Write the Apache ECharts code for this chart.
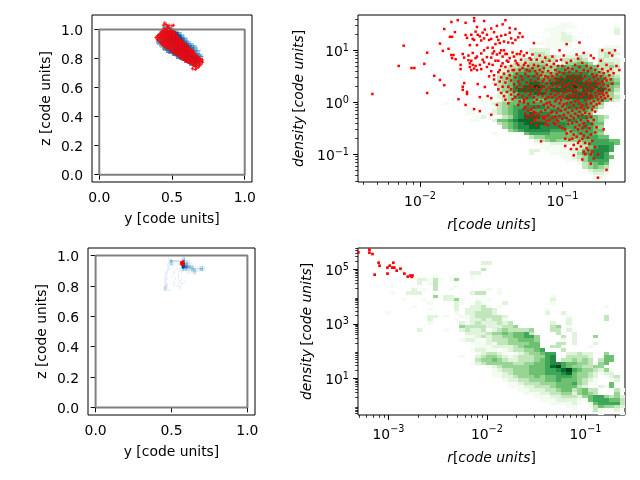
<!DOCTYPE html>
<html><head><meta charset="utf-8">
<script src="https://cdn.jsdelivr.net/npm/echarts@6/dist/echarts.min.js"></script>
<style>html,body{margin:0;padding:0;background:#fff}#c{width:640px;height:480px}</style></head>
<body><div id="c"></div>
<script>
// Greens / Blues levels 1..9
const greens=['#f4fbf1','#e0f3db','#c2e6bb','#98d594','#6cc070','#3fa75a','#238b45','#006d2c','#00441b'];
const blues=['#e9f2fa','#cfe1f2','#a8cee4','#78b5d9','#4d99ca','#2c7bb6','#115ca5','#08459a','#08306b'];
const bluesDense=['#a8cee4','#78b5d9','#4d99ca','#2c7bb6','#1f6cae','#115ca5','#08519c','#08459a','#08306b'];
const tickLabelsLinear=[0,0.2,0.4,0.6,0.8,1.0];
const xTicksLinear=[0,0.5,1.0];
const boxEdge=[[0,0],[1,0],[1,1],[0,1],[0,0]];

// top-right histogram: [row from top, first column, levels]
const heatTop=[[2,38,"11"],[3,37,"1111"],[3,48,"1"],[4,35,"1111"],[4,48,"2"],[5,36,"1121"],[5,48,"2"],[6,36,"11221"],[7,35,"111221"],[8,33,"1111111"],[8,41,"1"],[9,35,"11111"],[9,46,"111"],[10,32,"2222"],[10,40,"1"],[10,45,"222"],[11,31,"12332"],[11,38,"11"],[11,41,"12"],[11,45,"2332"],[12,28,"2221"],[12,33,"33332"],[12,39,"2232"],[12,45,"232"],[13,30,"2333343"],[13,38,"33343"],[13,45,"32221"],[14,29,"33344433"],[14,38,"244554"],[14,45,"3332"],
[15,27,"1334445544565666553343"],[16,26,"12345665544666666654332"],[17,26,"23456666555677777665432"],[18,26,"34567777566778887776543"],[19,25,"134567777667888887777554"],[20,25,"234567788778888888887665"],[21,26,"34577889877788988887654"],[22,26,"34578888778888878878653"],[23,26,"23457778877777888777542"],[24,25,"1234677766777788888765431"],[25,23,"11"],[25,27,"3455665566666777666532"],[26,16,"1"],[26,24,"1234556666666667777654"],[27,20,"1"],[27,25,"134566777766667777653"],[28,21,"1"],[28,25,"23456776666776666653"],[29,20,"11"],[29,24,"12345677877766666654"],[30,22,"12"],[30,27,"34678887777766776543"],[31,21,"11"],[31,25,"255678887777667766554"],[32,26,"34567888877776667755"],[33,27,"4567788777776667654"],[34,28,"456777776665666655"],[35,25,"1"],[35,31,"566665555566654"],[36,32,"344555555566655"],[37,33,"2345444445566655"],[38,33,"1112222234666665"],[39,34,"11111122356776"],[40,32,"22"],[40,35,"1111123567776"],[41,32,"2"],[41,36,"11112466776"],[42,38,"1123467765"],[43,39,"11246666"],[44,41,"134565"],[45,42,"34543"],[46,43,"2332"],[47,43,"1221"],[48,44,"11"]];

// bottom-right histogram
const heatBottom=[[4,23,"22"],[6,23,"3"],[7,21,"22"],[8,14,"1"],[8,17,"1"],[8,21,"1"],[9,11,"22"],[9,13,"1"],[9,14,"3"],[9,15,"1"],[9,17,"1"],[9,18,"4"],[9,21,"1"],[10,11,"2"],[10,13,"13"],[11,6,"1"],[11,14,"3"],[11,18,"1"],[12,10,"2"],[12,12,"1"],[12,14,"3"],[12,17,"1"],[12,24,"1"],[12,26,"1"],[13,6,"1"],[13,9,"222"],[13,21,"233"],[13,26,"1"],[14,14,"4"],[14,16,"22"],[14,23,"1"],[14,36,"1"],[15,8,"1"],[15,12,"1"],[15,16,"22"],[15,18,"41"],[15,22,"1"],[15,24,"1"],[15,36,"2"],[16,13,"1"],[16,18,"21"],[16,22,"21"],[16,27,"2"],[16,36,"1"],[17,10,"1"],[17,18,"2"],[17,21,"2231"],[17,26,"1"],[17,46,"1"],[18,13,"1"],[18,18,"2"],[18,20,"22233"],[18,25,"2"],[18,35,"1"],[19,5,"1"],[19,18,"1"],[19,20,"22333"],[19,25,"2"],[19,35,"2"],[19,38,"2"],[20,13,"22"],[20,16,"1"],[20,19,"112333"],[20,25,"332"],[20,39,"1"],[20,46,"3"],[21,13,"2"],[21,18,"1"],[21,20,"12232"],[21,25,"331"],[21,39,"2"],[21,46,"3"],[22,13,"1"],[22,19,"212322"],[22,25,"2323"],[22,36,"2"],[22,39,"2"],[23,19,"433332"],[23,25,"22334"],[23,36,"34"],[23,39,"1"],[24,11,"2"],[24,16,"1"],[24,19,"23223"],[24,25,"23433334"],[24,36,"33"],[24,39,"2"],
[25,19,"0222234454556300003002"],[26,19,"01123233445566400003020004"],[27,19,"1221023334455540000102"],[28,19,"0011121334444550003302000200000"],[29,19,"0001112222345550033000001"],[30,19,"0012211012334456000300000"],[31,19,"0001233210123445660022322004"],[32,19,"1002344321233344670133332005500"],[33,19,"0003445432233345671334343035500"],[34,19,"0012344444334455677655443045"],[35,19,"0000012344444555689654433440"],[36,19,"000000123344455566789654432410"],[37,19,"000000112344455566678544321220"],[38,19,"0000001122344454556665443201230"],[39,19,"0000000012233444556555432100020"],[40,19,"0000000001123334445556431100500"],[41,19,"0000000001112233345555320021500"],[42,19,"0000000000011222334553453300031"],[43,19,"0000000000001112233442454300040"],[44,19,"0000000000000011122333245664342"],[45,19,"0000000000000001112222115666553"],[46,19,"0000000000000000011112101566663"],[47,19,"0000000000000000000011001354432"],[48,19,"0000000000000000000001000311020"],[49,19,"0000000000000000000000000010001"]];

// blue histogram top-left: [z, first y column (hundredths), levels]
const blueTop=[[1.02,44,"2211"],[1.01,43,"2334432"],[1.00,43,"233455421"],[.99,42,"123455654321"],[.98,41,"12334556676521"],[.97,41,"2344455677786521"],[.96,40,"233445567777786421"],[.95,39,"13344455677888876521"],[.94,39,"233445566778888876421"],[.93,39,"2344455667788888875421"],[.92,39,"23444556667788888765321"],[.91,39,"223445566677888877654321"],[.90,39,"12344555666777788777654321"],[.89,40,"2334455566677778877654321"],[.88,41,"12344455566677788877654321"],[.87,42,"12344555666777888776544321"],[.86,43,"2344556667778887766544321"],[.85,44,"23445566677788877665443321"],[.84,46,"34555666776887766544321"],[.83,47,"2345566676677876654433"],[.82,50,"345566676677766544331"],[.81,52,"24566776666776654431"],[.80,53,"345667776667765431"],[.79,55,"3456677666776531"],[.78,56,"24566776667531"],[.77,58,"2345554665421"],[.76,60,"23443554321"],[.75,62,"2334321"],[.74,64,"1221"]];

// blue histogram bottom-left: strings start at y column 45
const blueBottomZ=[.98,.97,.96,.95,.94,.93,.92,.91,.90,.89,.88,.87,.86,.85,.84,.83,.82,.81,.80,.79,.78,.77];
const blueBottomLevels=["000100000000230000000000000","000120000000340000000000000","000143222211452210000000000","000233100121563320000000000","001132100122784421100000000","001112000013885532210000000","001101000004876544321011231","001101000012654433443223442","001100000011323222343112341","011000100111100110233210000","011000100101000110122100000","011001000100000001011000000","110001000100000000000000000","111000010101000000000000000","111000010101000000000000000","110000000110000000000000000","110000100010010000000000000","111001000101100000000000000","121000100101000000000000000","221000001110000000000000000","321000000010000000000000000","220100000000000000000000000"];

// red points top-left: [y, z, z, ...]
const redTL=[[.39,.945],[.40,.93,.955],[.41,.92,.945,.965],[.42,.91,.935,.955,.975],[.43,.90,.92,.945,.965,.985],[.44,.89,.91,.93,.955,.975,.995,1.03],[.45,.88,.905,.925,.945,.965,.985,1.005,1.045],[.46,.875,.895,.92,.94,.96,.98,1.0,1.035],[.47,.87,.89,.91,.93,.95,.97,.99,1.02],[.48,.865,.885,.905,.925,.945,.965,.985,1.01,1.03],[.49,.86,.88,.90,.92,.94,.96,.98,.995],[.50,.85,.875,.895,.915,.935,.955,.975,.99,1.025],[.51,.84,.865,.885,.905,.925,.945,.965,.985,1.03],[.52,.835,.855,.88,.90,.92,.94,.96,.98],[.53,.83,.85,.87,.89,.91,.93,.95,.965],[.54,.825,.845,.865,.885,.905,.925,.945],[.55,.815,.835,.855,.875,.895,.915,.935],[.56,.805,.825,.85,.87,.89,.905,.925],[.57,.80,.82,.84,.86,.88,.90,.92],[.58,.795,.815,.835,.855,.875,.895,.91],[.59,.785,.805,.83,.85,.87,.89],[.60,.78,.80,.82,.84,.86,.88,.90],[.61,.775,.795,.815,.835,.855,.875],[.62,.77,.79,.81,.83,.85,.87],[.63,.765,.785,.805,.825,.845,.86],[.64,.73,.76,.78,.80,.82,.84,.855],[.65,.75,.77,.79,.81,.83,.845],[.66,.725,.745,.765,.785,.805,.825],[.67,.735,.76,.78,.80,.82],[.68,.74,.755,.775,.795,.81],[.69,.75,.77,.79,.80],[.70,.76,.78,.795],[.71,.775,.79]];
const redBL=[[.565,.945],[.57,.955],[.575,.95],[.57,.94],[.58,.945],[.565,.955],[.575,.96]];

// red points top-right in log10 units: [log r, log density, ...]
const redTR=[[-2.335,.16],[-2.115,1.09],[-2.15,.70],[-2.06,.66],[-2.04,.66],[-1.97,.74],[-1.95,.955,.18],[-1.90,.51],[-1.86,.43,1.13],[-1.84,.99],[-1.83,.33,1.41],[-1.80,1.03],[-1.79,1.26],[-1.78,1.545,.91],[-1.775,1.26,.85],[-1.765,.91],[-1.755,1.35],[-1.75,.83],[-1.735,1.58],[-1.73,.06],[-1.715,.64,.72],[-1.70,.93,.24,.30],[-1.69,.37,.86],[-1.68,1.53,1.295,-.05],[-1.67,1.24,.16,.2],[-1.66,.81,.9],[-1.65,1.1,.75,.68],[-1.64,1.3,.62,.8],[-1.63,.95,1.22,.72],[-1.62,1.62,1.565,1.2,.65,-.13],[-1.61,1.36,.85,.7],[-1.60,1.45,1.1,.88,.62],[-1.595,.35,1.3],[-1.58,1.27,.72,.10,-.17],[-1.57,1.19,.94,.64],[-1.56,1.34,.82],[-1.55,1.565,1.23,1.0,.77],[-1.545,.295,1.4],[-1.53,1.3,.87,.68],[-1.525,.12,1.05],[-1.515,1.2,.74,.5],[-1.50,1.42,1.22,.86,.6,.08,-.24],[-1.49,1.05,.94,.72],[-1.48,1.35,.98,.52,.44],[-1.47,1.12,.8,.34],[-1.46,1.26,1.47,.92,-.05],[-1.45,1.2,.8,.58,.25],[-1.44,1.14,.95,.62,.4],[-1.43,1.28,1.0,.7,.48,.18],[-1.42,1.5,.88,.75,.3],[-1.41,1.17,1.0,.55,.12],[-1.40,1.58,1.3,.93,.68,.38,.05],[-1.39,.93,.8,.46,.2],[-1.38,1.15,.78,.6,.3,-.02],[-1.37,1.43,1.34,.85,.52],[-1.36,1.23,.7,.42,.15,.25],[-1.35,1.14,.96,.62,.06],[-1.34,.88,.62,.35,.2],[-1.33,1.41,1.2,.8,.48,.1],[-1.32,.93,.75,.55,.28],[-1.31,1.25,.72,.4,.15,-.05],[-1.30,1.33,.93,.62,.34,.02],[-1.29,.98,.82,.5,.24],[-1.28,1.26,.66,.44,.12],[-1.27,.9,.72,.3,.0,.05,-.12],[-1.26,.76,.55,.2,-.1,-.22],[-1.25,.95,.62,.38,.08,-.3],[-1.24,.7,.5,.26,-.03,-.16],[-1.23,.85,.6,.32,.14,-.26],[-1.22,.82,.42,.18,-.14,-.4],[-1.21,.92,.66,.3,-.25],[-1.20,1.14,.72,.5,.1,.0,-.1,-.18,-.34],[-1.19,.6,.4,.22,-.2,-.35],[-1.18,.82,.55,.28,.05,-.3,-.44],[-1.17,.7,.46,.14,-.08,-.24],[-1.16,.9,.62,.34,.2,-.38],[-1.15,.52,.25,.02,-.18,-.75],[-1.14,.78,.58,.4,.12,-.28],[-1.13,.66,.44,.3,-.05,-.32],[-1.12,.86,.5,.18,.06,-.15,-.28,-.42],[-1.11,.72,.36,.24,-.02,-.36],[-1.10,.6,.48,.1,-.1,-.25,-.44],[-1.09,.8,.42,.28,.0,-.34],[-1.08,.68,.56,.16,-.05,-.2],[-1.07,.88,.5,.32,.1,-.18,-.3],[-1.06,.74,.38,.22,-.08,-.4],[-1.05,.62,.46,.14,.02,-.28,-.42],[-1.04,.8,.54,.3,.06,-.2,-.34],[-1.03,.7,.42,.18,-.12,-.36],[-1.02,1.0,.58,.34,.1,-.02,-.26,-.46],[-1.01,.82,.48,.24,.04,-.16],[-1.00,.7,.38,.12,-.08,-.32,-.5],[-.99,.9,.56,.3,.18,-.04,-.24],[-.98,.62,.44,.08,-.14,-.52,-.7,-.84],[-.97,1.12,.76,.34,.2,-.02,-.3,-.6],[-.96,.66,.5,.26,.06,-.2,-.42],[-.95,.58,.36,.14,-.1,-.34,-.72],[-.94,.8,.46,.22,.0,-.26,-.56,-.9],[-.93,.64,.3,.1,-.16,-.4,-.7],[-.92,.52,.38,.16,-.06,-.3,-.62,-.82,-1.02],[-.91,.72,.44,.24,.02,-.22,-.48],[-.90,.92,.6,.34,.12,-.12,-.38,-.66,-.9],[-.89,.84,.5,.2,.04,-.26,-.52,-.78],[-.88,1.15,.68,.42,.28,-.02,-.18,-.44,-.74],[-.87,.56,.3,.1,-.1,-.34,-.6,-.85],[-.86,.76,.46,.18,-.06,-.24,-.5,-.7,-1.1],[-.85,.95,.62,.36,.14,-.14,-.4,-.64,-.95],[-.84,.5,.26,.04,-.2,-.46,-.78,-1.0],[-.83,.7,.4,.2,-.04,-.3,-.56,-.88],[-.82,.6,.32,.12,-.1,-.36,-.68,-.92],[-.81,.44,.24,.06,-.22,-.5,-.8],[-.80,.9,.66,.38,.16,-.02,-.28,-.62,-1.0,-1.18],[-.79,.54,.3,.1,-.14,-.42,-.74,-.95],[-.78,.85,.48,.26,.02,-.08,-.34,-1.08],[-.77,.62,.4,.18,-.18,-.58,-.86],[-.76,.52,.34,.12,-.04,-.48],[-.75,.7,.44,.22,.06,-1.0,-1.45],[-.74,.58,.36,.16,-.02],[-.73,.8,.5,.28,.1],[-.72,1.0,.64,.4,.2,.04],[-.71,.56,.34,.14,-.52],[-.70,.46,.26,.08],[-.69,.72,.42,.18,-1.3],[-.68,.6,.32,.12],[-.67,.95,.52,.24],[-.66,.64,.44,.06],[-.65,.9,.36],[-.64,.56],[-.63,1.0],[-.62,.7],[-.60,.62]];

// red points bottom-right in log10 units
const redBR=[[-3.305,5.62],[-3.193,5.72],[-3.193,5.61],[-3.162,5.56],[-3.10,5.24],[-3.09,5.13],[-3.14,4.80],[-3.01,5.06],[-3.01,4.84],[-2.987,5.13],[-2.95,5.24],[-2.96,5.06],[-2.94,5.06],[-2.916,4.95],[-2.878,5.02],[-2.838,4.84],[-2.804,4.73],[-2.777,4.77],[-2.756,4.77],[-2.763,4.72]];

// axis ranges (log10 for right column)
const rangeTR={x:[-2.436,-0.56],y:[-1.533,1.68]};
const rangeBR={x:[-3.309,-0.598],y:[-0.347,5.78]};
const decadesTRx=[-2,-1],decadesTRy=[-1,0,1],decadesBRx=[-3,-2,-1],decadesBRy=[1,3,5];
const FONT='DejaVu Sans',FS=13.9;

const pow=v=>Math.pow(10,v);
function minors(lo,hi){const o=[];for(let d=Math.floor(lo);d<Math.ceil(hi);d++)for(let k=2;k<10;k++){const v=k*pow(d);if(Math.log10(v)>lo&&Math.log10(v)<hi)o.push(v);}return o;}
const grids=[{left:92,top:15,width:160,height:167},{left:358,top:15,width:267,height:167},{left:88,top:248,width:167,height:167},{left:358,top:248,width:267,height:167}];
const axisBase={axisLine:{show:false},splitLine:{show:false},axisTick:{length:4.9,lineStyle:{color:'#000',width:1}}};
function linAxis(dim,g,min,max,ticks,name,gap){return Object.assign({},axisBase,{type:'value',gridIndex:g,min,max,name,nameLocation:'middle',nameGap:gap,nameTextStyle:{fontFamily:FONT,fontSize:FS,color:'#000'},
 axisTick:Object.assign({},axisBase.axisTick,{customValues:ticks}),axisLabel:{customValues:ticks,margin:9,fontFamily:FONT,fontSize:FS,color:'#000',hideOverlap:false,showMinLabel:true,showMaxLabel:true,
 formatter:v=>'{t|'+Number(v).toFixed(1)+'}',rich:{t:{fontFamily:FONT,fontSize:FS,color:'#000',padding:dim==='y'?[4,0,0,0]:0}}}});}
const mathRich={i:{fontFamily:FONT,fontStyle:'italic',fontSize:FS,color:'#000'},n:{fontFamily:FONT,fontSize:FS,color:'#000'}};
function logAxis(g,r,decs,name,gap,pos){const vals=decs.map(pow);const left=pos==='left';return Object.assign({},axisBase,{type:'log',logBase:10,gridIndex:g,position:pos,min:pow(r[0]),max:pow(r[1]),name,nameLocation:'middle',nameGap:gap,nameTextStyle:{rich:mathRich},
 axisTick:Object.assign({},axisBase.axisTick,{customValues:vals}),axisLabel:{customValues:vals,margin:9,hideOverlap:false,showMinLabel:true,showMaxLabel:true,fontFamily:FONT,fontSize:FS,color:'#000',
 formatter:v=>'{b|10}{s|'+String(Math.round(Math.log10(v))).replace('-','\u2212')+'}',rich:{b:{fontFamily:FONT,fontSize:FS,color:'#000',lineHeight:18,verticalAlign:'bottom',padding:left?[4,0,0,0]:0},s:{fontFamily:FONT,fontSize:9.7,color:'#000',verticalAlign:'top',lineHeight:11,padding:left?[2,0,0,0]:0}}}});}
function minorAxis(g,r,pos){return {type:'log',logBase:10,gridIndex:g,position:pos,min:pow(r[0]),max:pow(r[1]),axisLine:{show:false},splitLine:{show:false},axisLabel:{show:false},axisTick:{show:true,length:2.8,lineStyle:{color:'#000',width:0.8},customValues:minors(r[0],r[1])}};}
const rName='{i|r}{n|[}{i|code units}{n|]}',dName='{i|density} {n|[}{i|code units}{n|]}';
const xAxes=[linAxis('x',0,-0.05,1.05,xTicksLinear,'y [code units]',30),logAxis(1,rangeTR.x,decadesTRx,rName,36,'bottom'),linAxis('x',2,-0.05,1.05,xTicksLinear,'y [code units]',30),logAxis(3,rangeBR.x,decadesBRx,rName,36,'bottom'),minorAxis(1,rangeTR.x,'bottom'),minorAxis(3,rangeBR.x,'bottom')];
const yAxes=[linAxis('y',0,-0.05,1.10,tickLabelsLinear,'z [code units]',39),logAxis(1,rangeTR.y,decadesTRy,dName,52,'left'),linAxis('y',2,-0.05,1.05,tickLabelsLinear,'z [code units]',39),logAxis(3,rangeBR.y,decadesBRy,dName,44,'left'),minorAxis(1,rangeTR.y,'left'),minorAxis(3,rangeBR.y,'left')];

function logCells(segs,r){const d=[];const dx=(r.x[1]-r.x[0])/50,dy=(r.y[1]-r.y[0])/50;
 segs.forEach(([row,col,s])=>{for(let i=0;i<s.length;i++){const l=+s[i];if(!l)continue;const c=col+i;d.push([pow(r.x[0]+dx*c),pow(r.x[0]+dx*(c+1)),pow(r.y[1]-dy*(row+1)),pow(r.y[1]-dy*row),l]);}});return d;}
function linCells(rows,w,h){const d=[];rows.forEach(([z,col,s])=>{for(let i=0;i<s.length;i++){const l=+s[i];if(!l)continue;const y=(col+i)/100;d.push([y,y+w,z,z+h,l]);}});return d;}
function cellSeries(idx,data,pal){return {type:'custom',xAxisIndex:idx,yAxisIndex:idx,silent:true,clip:true,data,encode:{x:[0,1],y:[2,3]},z:1,
 renderItem:(p,api)=>{const a=api.coord([api.value(0),api.value(2)]),b=api.coord([api.value(1),api.value(3)]);
  const x0=Math.round(a[0]),x1=Math.round(b[0]),y0=Math.round(b[1]),y1=Math.round(a[1]);
  return {type:'rect',shape:{x:x0,y:y0,width:Math.max(x1-x0,1),height:Math.max(y1-y0,1)},style:{fill:pal[api.value(4)-1]}};}};}
const box=i=>({type:'line',xAxisIndex:i,yAxisIndex:i,data:boxEdge,showSymbol:false,silent:true,lineStyle:{color:'#808080',width:2},z:2});
const red=(i,data,sym,size,op)=>({type:'scatter',xAxisIndex:i,yAxisIndex:i,data,symbol:sym,symbolSize:size,silent:true,itemStyle:{color:'#ff0000',opacity:op},z:3});
const expand=c=>{const o=[];c.forEach(a=>{for(let i=1;i<a.length;i++)o.push([pow(a[0]),pow(a[i])]);});return o;};
const expandLin=c=>{const o=[];c.forEach(a=>{for(let i=1;i<a.length;i++)o.push([a[0],a[i]]);});return o;};
const plus='path://M3.5 0H6.5V3.5H10V6.5H6.5V10H3.5V6.5H0V3.5H3.5Z';

const chart=echarts.init(document.getElementById('c'),null,{renderer:'canvas'});
chart.setOption({animation:false,backgroundColor:'#fff',
 grid:grids.map(g=>Object.assign({show:true,borderColor:'#000',borderWidth:1,backgroundColor:'transparent',containLabel:false},g)),
 xAxis:xAxes,yAxis:yAxes,
 series:[
  cellSeries(0,linCells(blueTop,.01,.01),bluesDense),box(0),red(0,expandLin(redTL),plus,3.3,.95),
  cellSeries(1,logCells(heatTop,rangeTR),greens),red(1,expand(redTR),'rect',2.5,1),
  cellSeries(2,linCells(blueBottomLevels.map((s,i)=>[blueBottomZ[i],45,s]),.01,.01),blues),box(2),red(2,redBL,'rect',2.4,1),
  cellSeries(3,logCells(heatBottom,rangeBR),greens),red(3,redBR.map(p=>[pow(p[0]),pow(p[1])]),'rect',2.7,1)
 ]});
</script></body></html>
